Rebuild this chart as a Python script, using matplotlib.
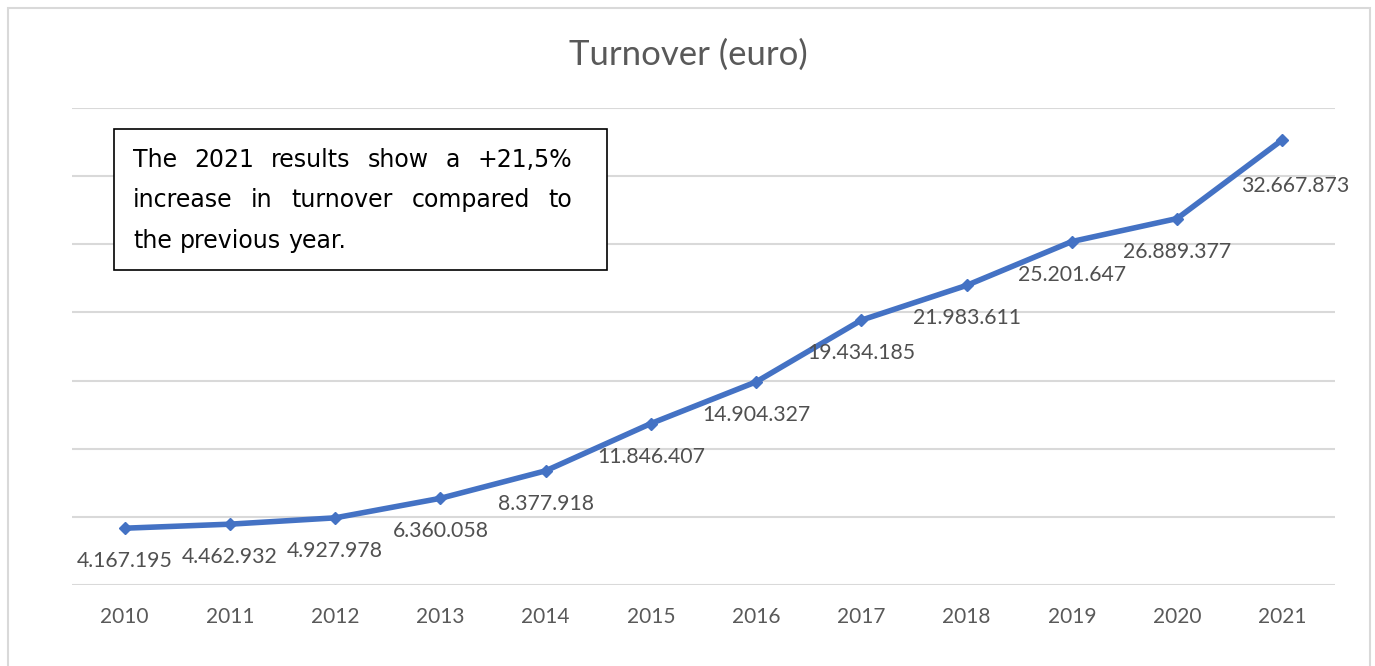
import matplotlib
matplotlib.use("Agg")
import matplotlib.pyplot as plt
from matplotlib.patches import Rectangle

years = ["2010", "2011", "2012", "2013", "2014", "2015", "2016", "2017", "2018", "2019", "2020", "2021"]
turnover = [4167195, 4462932, 4927978, 6360058, 8377918, 11846407, 14904327, 19434185, 21983611, 25201647, 26889377, 32667873]
title = "Turnover (euro)"
note_lines = ["The 2021 results show a +21,5%", "increase in turnover compared to", "the previous year."]

W, H = 1375, 666
fig = plt.figure(figsize=(W / 100, H / 100), dpi=100)
FONT = "Lato"
NOTE_FONT = "DejaVu Sans"
NOTE_SIZE = 17
GRAY = "#595959"
BLUE = "#4472C4"

def fx(px):
    return px / W

def fy(py):
    return 1 - py / H

# outer frame
fig.patches.append(Rectangle((fx(8), fy(700)), fx(1370) - fx(8), fy(8) - fy(700),
                             transform=fig.transFigure, fill=False, edgecolor="#D9D9D9", linewidth=1.5))

ax = fig.add_axes([fx(72), fy(585), fx(1335) - fx(72), fy(108) - fy(585)])
x = list(range(len(years)))
ax.plot(x, turnover, color=BLUE, linewidth=4, marker="D", markersize=6, solid_capstyle="round", zorder=3)
ax.set_xlim(-0.5, len(years) - 0.5)
ax.set_ylim(0, 35_000_000)
ax.set_yticks(range(0, 35_000_001, 5_000_000))
ax.set_yticklabels([])
ax.tick_params(axis="y", length=0)
ax.tick_params(axis="x", length=0, pad=16)
ax.set_xticks(x)
ax.set_xticklabels(years, fontsize=15, color=GRAY, fontname=FONT)
ax.grid(axis="y", color="#D9D9D9", linewidth=1.5)
for s in ax.spines.values():
    s.set_visible(False)
ax.set_axisbelow(True)

def fmt(v):
    return f"{v:,}".replace(",", ".")

for i, v in enumerate(turnover):
    dx, dy = 0, -33
    if i == len(turnover) - 1:
        dx, dy = 13, -46
    ax.annotate(fmt(v), (i, v), xytext=(dx, dy), textcoords="offset pixels",
                ha="center", va="center", fontsize=15.3, color="#505050", fontname=FONT)

fig.text(fx(688), fy(55), title, ha="center", va="center", fontsize=25, color=GRAY, fontname=FONT)

# note box
fig.patches.append(Rectangle((fx(114), fy(270)), fx(607) - fx(114), fy(129) - fy(270),
                             transform=fig.transFigure, fill=True, facecolor="white",
                             edgecolor="black", linewidth=1.2, zorder=5))
renderer = fig.canvas.get_renderer()
left, right = 133, 572
baselines = [167, 207, 248]
for li, line in enumerate(note_lines):
    words = line.split(" ")
    justify = li < len(note_lines) - 1
    texts = []
    widths = []
    for w in words:
        t = fig.text(0, 0, w, fontsize=NOTE_SIZE, color="black", fontname=NOTE_FONT,
                     va="baseline", ha="left", zorder=6)
        widths.append(t.get_window_extent(renderer).width)
        texts.append(t)
    if justify and len(words) > 1:
        gap = (right - left - sum(widths)) / (len(words) - 1)
    else:
        sp = fig.text(0, 0, "a a", fontsize=NOTE_SIZE, fontname=NOTE_FONT)
        sp2 = fig.text(0, 0, "aa", fontsize=NOTE_SIZE, fontname=NOTE_FONT)
        gap = sp.get_window_extent(renderer).width - sp2.get_window_extent(renderer).width
        sp.remove(); sp2.remove()
    cx = left
    for t, w in zip(texts, widths):
        t.set_position((fx(cx), fy(baselines[li])))
        cx += w + gap

fig.savefig("out.png", dpi=100, facecolor="white")
